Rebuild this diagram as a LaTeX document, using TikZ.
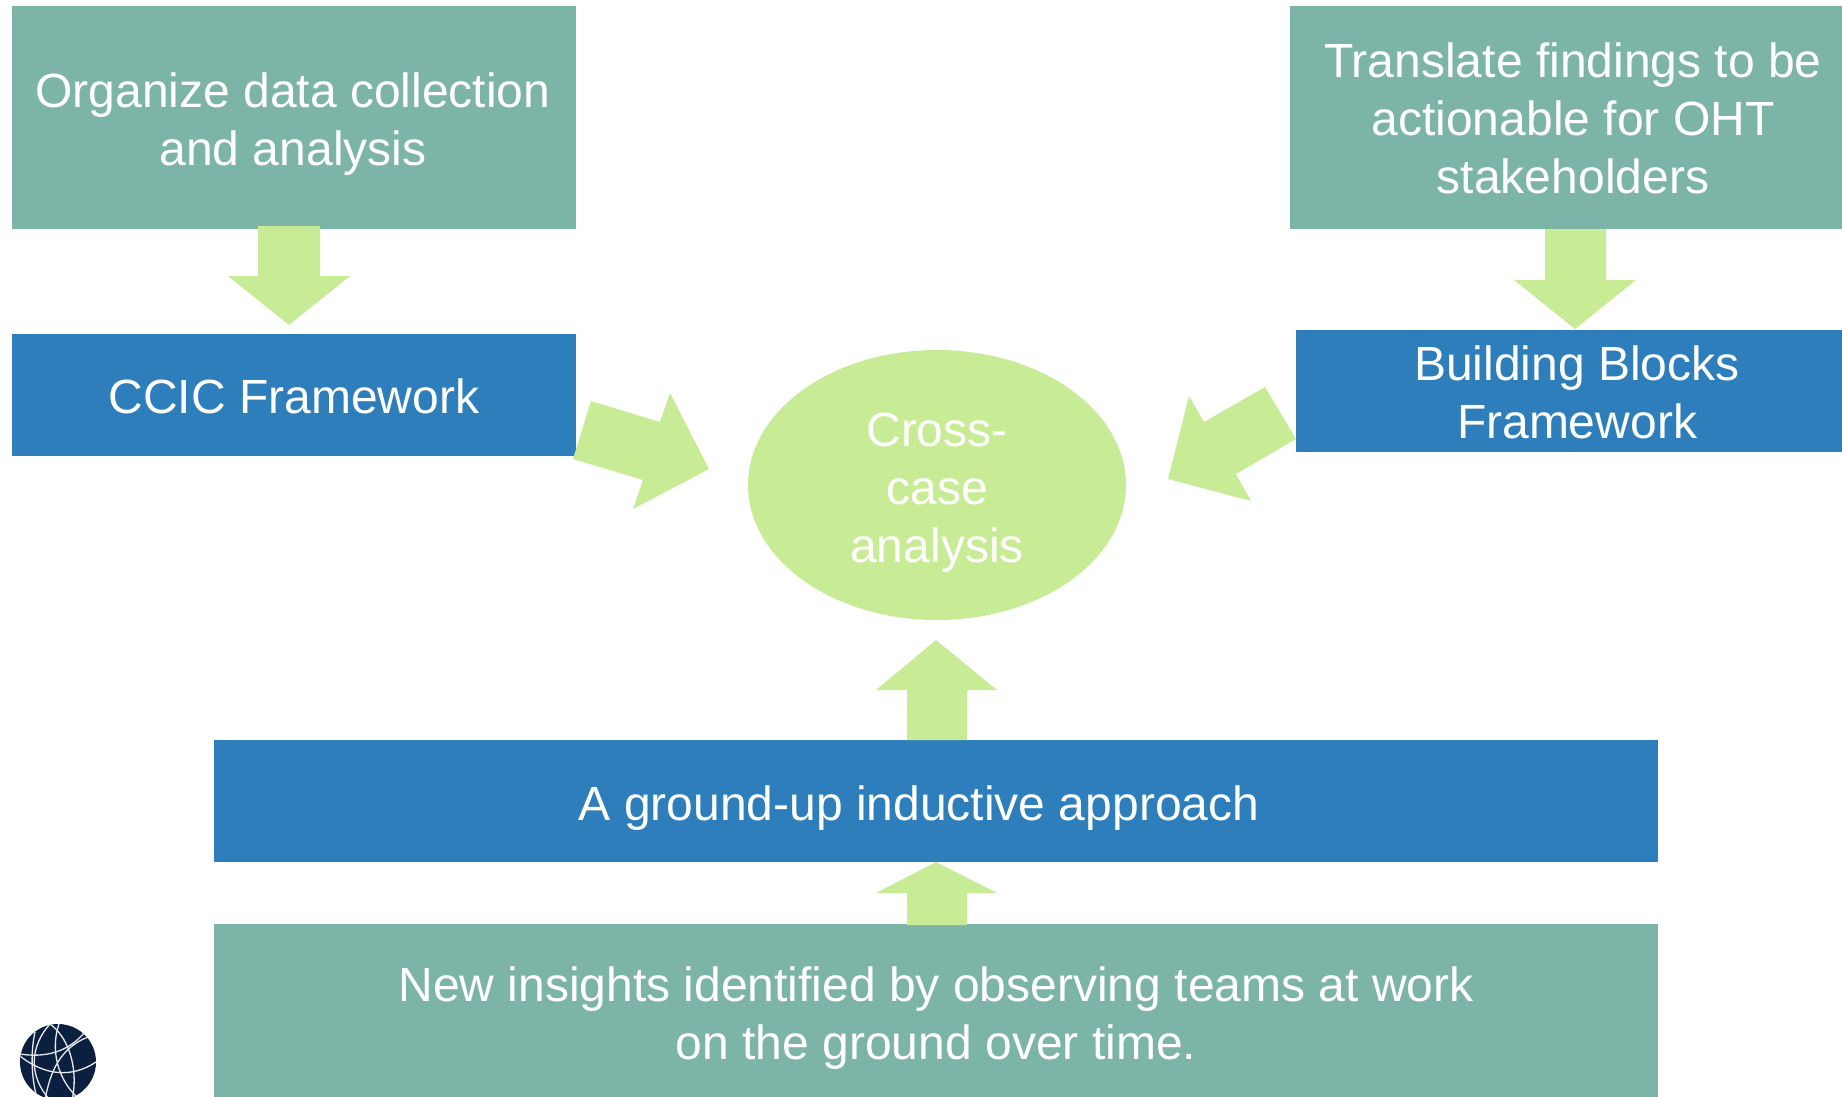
\documentclass[tikz,border=0pt]{standalone}
\usepackage{fontspec}
\setmainfont{Liberation Sans}
\definecolor{tealbox}{HTML}{7CB4A8}
\definecolor{bluebox}{HTML}{2E7EBC}
\definecolor{limeshape}{HTML}{C8EC96}
\definecolor{logonavy}{HTML}{0B2040}
\tikzset{
  basebox/.style={rectangle,inner sep=0pt,outer sep=0pt},
  tealnode/.style={basebox,fill=tealbox},
  bluenode/.style={basebox,fill=bluebox},
  textlabel/.style={inner sep=0pt,outer sep=0pt,text=white,align=center,font=\fontsize{24}{29}\selectfont},
  blockarrow/.style={fill=limeshape,draw=none},
  logoline/.style={draw=white!90!logonavy,line width=0.65pt}
}
\begin{document}
\begin{tikzpicture}[x=0.5pt,y=-0.5pt]
\useasboundingbox (0,0) rectangle (1842,1097);
% boxes
\node[tealnode,minimum width=282pt,minimum height=111.5pt] (organize) at (294,117.5) {};
\node[bluenode,minimum width=282pt,minimum height=61pt] (ccic) at (294,395) {};
\node[tealnode,minimum width=276pt,minimum height=111.5pt] (translate) at (1566,117.5) {};
\node[bluenode,minimum width=273pt,minimum height=61pt] (blocks) at (1569,391) {};
\node[bluenode,minimum width=722pt,minimum height=61pt] (ground) at (936,801) {};
\node[tealnode,minimum width=722pt,minimum height=86.5pt] (insights) at (936,1010.5) {};
\fill[limeshape] (937,485) ellipse [x radius=189,y radius=135];
% block arrows
\fill[blockarrow] (258,226)--(320,226)--(320,276)--(350,276)--(289,325)--(228,276)--(258,276)--cycle;
\fill[blockarrow] (1545,229)--(1606,229)--(1606,280)--(1636,280)--(1575,329)--(1514,280)--(1545,280)--cycle;
\fill[blockarrow] (591,401)--(660,422)--(670,393)--(709,469)--(633,509)--(643,480)--(573,459)--cycle;
\fill[blockarrow] (1265,387)--(1204,422)--(1189,396)--(1168,479)--(1251,501)--(1236,474)--(1296,439)--cycle;
\fill[blockarrow] (907,740)--(907,690)--(876,690)--(936,640)--(997,690)--(967,690)--(967,740)--cycle;
\fill[blockarrow] (907,925)--(907,893)--(876,893)--(936,862)--(997,893)--(967,893)--(967,925)--cycle;
% texts
\node[textlabel] (organizetext) at ([shift={(-1,7)}]organize.center) {Organize data collection\\and analysis};
\node[textlabel] (ccictext) at ([shift={(0,1)}]ccic.center) {CCIC Framework};
\node[textlabel] (translatetext) at ([shift={(7,1)}]translate.center) {Translate findings to be\\actionable for OHT\\stakeholders};
\node[textlabel] (blockstext) at ([shift={(8,1)}]blocks.center) {Building Blocks\\Framework};
\node[textlabel] (groundtext) at ([shift={(-17,7)}]ground.center) {A ground-up inductive approach};
\node[textlabel] (insightstext) at ([shift={(0,8)}]insights.center) {New insights identified by observing teams at work\\on the ground over time.};
\node[textlabel] (cross) at (937,493) {Cross-\\case\\analysis};
% logo
\begin{scope}
\clip (0,0) rectangle (1842,1097);
\fill[logonavy] (58,1062) circle [radius=38];
\clip (58,1062) circle [radius=38];
\draw[logoline] (20,1054) .. controls (45,1058) and (68,1052) .. (84,1033);
\draw[logoline] (20,1056) .. controls (45,1076) and (72,1078) .. (96,1062);
\draw[logoline] (50,1024) .. controls (30,1046) and (28,1076) .. (50,1100);
\draw[logoline] (50,1024) .. controls (72,1040) and (78,1075) .. (72,1100);
\draw[logoline] (59,1024) .. controls (50,1050) and (58,1080) .. (78,1098);
\draw[logoline] (88,1037) .. controls (60,1048) and (50,1072) .. (45,1100);
\draw[logoline] (35,1032) .. controls (30,1055) and (32,1080) .. (37,1098);
\end{scope}
\end{tikzpicture}
\end{document}
